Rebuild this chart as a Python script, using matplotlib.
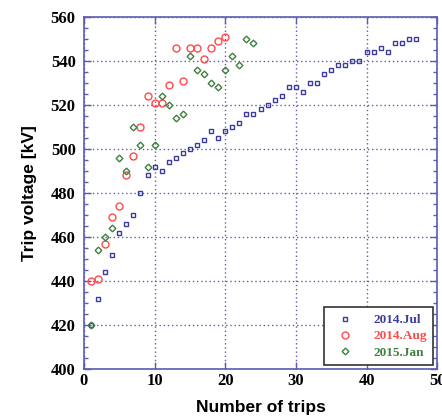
import matplotlib.pyplot as plt
from matplotlib.ticker import MultipleLocator

# ==========================
# Data
# ==========================

jul_trips = list(range(1, 48))
jul_kv = [420, 432, 444, 452, 462, 466, 470, 480, 488, 492,
          490, 494, 496, 498, 500, 502, 504, 508, 505, 508,
          510, 512, 516, 516, 518, 520, 522, 524, 528, 528,
          526, 530, 530, 534, 536, 538, 538, 540, 540, 544,
          544, 546, 544, 548, 548, 550, 550]

aug_trips = list(range(1, 21))
aug_kv = [440, 441, 457, 469, 474, 488, 497, 510, 524, 521,
          521, 529, 546, 531, 546, 546, 541, 546, 549, 551]

jan_trips = list(range(1, 25))
jan_kv = [420, 454, 460, 464, 496, 490, 510, 502, 492, 502,
          524, 520, 514, 516, 542, 536, 534, 530, 528, 536,
          542, 538, 550, 548]

BLUE = "#3c3c9c"
RED = "#ff4a4a"
GREEN = "#3f7f3f"
FRAME = "#5c5cb0"

# ==========================
# Plot
# ==========================

fig = plt.figure(figsize=(4.42, 4.2), dpi=100)
ax = fig.add_axes([0.190, 0.121, 0.799, 0.839])

ax.plot(jul_trips, jul_kv, linestyle="none", marker="s", markersize=3.4,
        markerfacecolor="none", markeredgecolor=BLUE, markeredgewidth=1.0,
        label="2014.Jul")
ax.plot(aug_trips, aug_kv, linestyle="none", marker="o", markersize=5,
        markerfacecolor="none", markeredgecolor=RED, markeredgewidth=1.0,
        label="2014.Aug")
ax.plot(jan_trips, jan_kv, linestyle="none", marker="D", markersize=3.4,
        markerfacecolor="none", markeredgecolor=GREEN, markeredgewidth=1.0,
        label="2015.Jan")

ax.set_xlim(0, 50)
ax.set_ylim(400, 560)
ax.xaxis.set_major_locator(MultipleLocator(10))
ax.yaxis.set_major_locator(MultipleLocator(20))
ax.yaxis.set_minor_locator(MultipleLocator(5))

ax.grid(True, which="major", color=FRAME, linestyle=(0, (1, 2)), linewidth=1.0)

for s in ax.spines.values():
    s.set_color(FRAME)
    s.set_linewidth(1.2)

ax.tick_params(which="both", direction="in", color=FRAME, top=True, right=True)
ax.tick_params(which="major", length=5, width=1.0, labelsize=12)
ax.tick_params(axis="y", which="major", pad=6)
ax.tick_params(axis="x", which="major", pad=3)
ax.tick_params(which="minor", length=3, width=1.0)

for lab in ax.get_xticklabels() + ax.get_yticklabels():
    lab.set_family("Liberation Serif")
    lab.set_fontweight("bold")

ax.set_xlabel("Number of trips", family="Liberation Sans", fontweight="bold",
              fontsize=12.5, labelpad=8)
ax.set_ylabel("Trip voltage [kV]", family="Liberation Sans", fontweight="bold",
              fontsize=12.5, labelpad=10)

leg = ax.legend(loc="lower right", fancybox=False, framealpha=1,
                edgecolor="#333333", handletextpad=1.0, borderpad=0.5,
                labelspacing=0.3, borderaxespad=0.3, handlelength=2.2,
                prop={"family": "Liberation Serif", "weight": "bold", "size": 9.5})
leg.get_frame().set_linewidth(1.2)
for txt, col in zip(leg.get_texts(), [BLUE, RED, GREEN]):
    txt.set_color(col)

fig.savefig("out.png", dpi=100)
